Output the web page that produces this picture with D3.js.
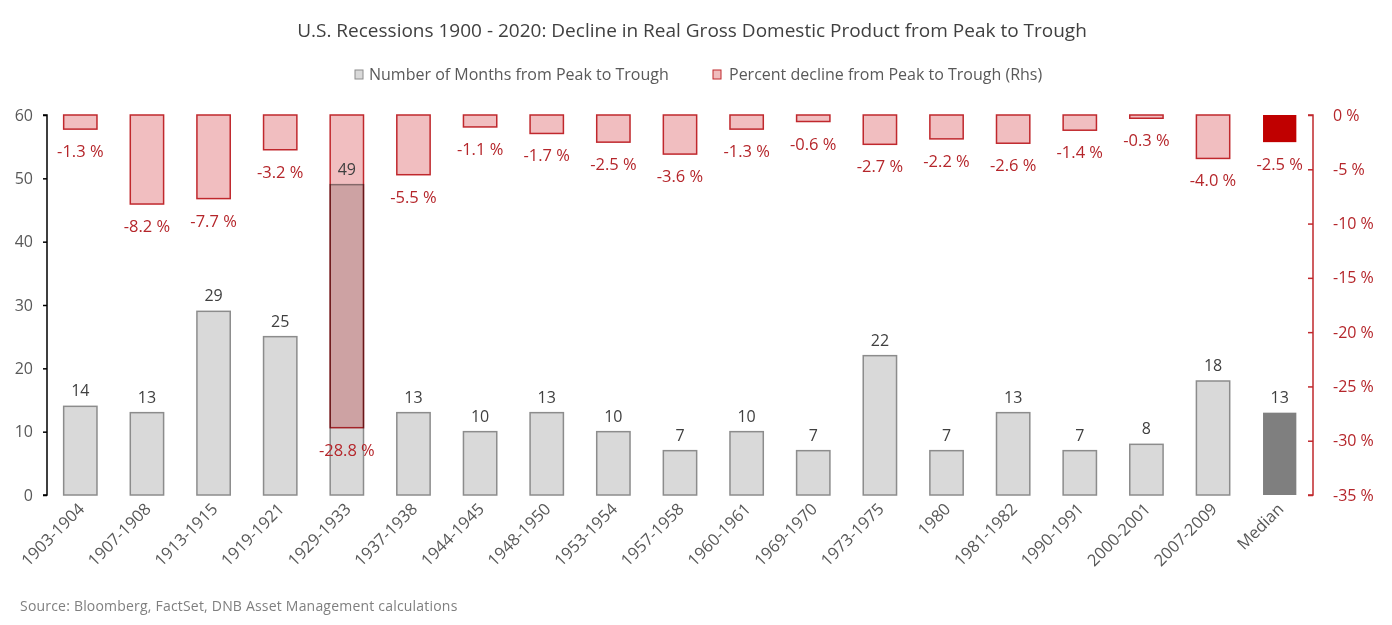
<!DOCTYPE html>
<html>
<head>
<meta charset="utf-8">
<script src="https://cdn.jsdelivr.net/npm/d3@7"></script>
<style>
  body { margin: 0; background: #fff; }
  svg text { font-family: "Open Sans", "Noto Sans", sans-serif; }
</style>
</head>
<body>
<div id="chart"></div>
<script>
// Data
var periods = ["1903-1904", "1907-1908", "1913-1915", "1919-1921", "1929-1933", "1937-1938",
               "1944-1945", "1948-1950", "1953-1954", "1957-1958", "1960-1961", "1969-1970",
               "1973-1975", "1980", "1981-1982", "1990-1991", "2000-2001", "2007-2009", "Median"];
var months  = [14, 13, 29, 25, 49, 13, 10, 13, 10, 7, 10, 7, 22, 7, 13, 7, 8, 18, 13];
var decline = [-1.3, -8.2, -7.7, -3.2, -28.8, -5.5, -1.1, -1.7, -2.5, -3.6, -1.3, -0.6,
               -2.7, -2.2, -2.6, -1.4, -0.3, -4.0, -2.5];
var leftTicks  = [0, 10, 20, 30, 40, 50, 60];
var rightTicks = [0, -5, -10, -15, -20, -25, -30, -35];

var data = periods.map(function(p, i) {
	return { period: p, months: months[i], decline: decline[i], median: p === "Median" };
});

// Dimensions
var svg_dx = 1392, svg_dy = 625;
var margin = {top: 115, right: 79, bottom: 130, left: 47},
	width  = svg_dx - margin.left - margin.right,
	height = svg_dy - margin.top - margin.bottom;

var svg = d3.select("#chart").append("svg")
	.attr("width", svg_dx)
	.attr("height", svg_dy);

// Title
svg.append("text")
	.attr("x", 692).attr("y", 37)
	.attr("text-anchor", "middle")
	.style("font-size", "19px")
	.style("fill", "#404040")
	.text("U.S. Recessions 1900 - 2020: Decline in Real Gross Domestic Product from Peak to Trough");

// Legend
var legend = svg.append("g").attr("transform", "translate(0,75)");
legend.append("rect").attr("x", 355).attr("y", -5).attr("width", 8).attr("height", 9)
	.style("fill", "#d9d9d9").style("stroke", "#8c8c8c");
legend.append("text").attr("x", 369).attr("y", 5)
	.style("font-size", "16px").style("fill", "#595959")
	.text("Number of Months from Peak to Trough");
legend.append("rect").attr("x", 713).attr("y", -5).attr("width", 8).attr("height", 9)
	.style("fill", "#f0bcbd").style("stroke", "#c0282d");
legend.append("text").attr("x", 729).attr("y", 5)
	.style("font-size", "16px").style("fill", "#595959")
	.text("Percent decline from Peak to Trough (Rhs)");

var g = svg.append("g")
	.attr("transform", "translate(" + margin.left + "," + margin.top + ")");

// Scales
var xScale = d3.scaleBand()
	.domain(periods)
	.range([0, width])
	.paddingInner(0.5)
	.paddingOuter(0.25);

var yLeft = d3.scaleLinear().domain([0, 60]).range([height, 0]);
var yRight = d3.scaleLinear().domain([-35, 0]).range([height, 0]);

// Month bars
g.selectAll(".mbar").data(data).enter()
	.append("rect")
	.attr("class", "mbar")
	.attr("x", function(d) { return xScale(d.period); })
	.attr("width", xScale.bandwidth())
	.attr("y", function(d) { return yLeft(d.months); })
	.attr("height", function(d) { return height - yLeft(d.months); })
	.style("fill", function(d) { return d.median ? "#7f7f7f" : "#d9d9d9"; })
	.style("stroke", function(d) { return d.median ? "none" : "#8c8c8c"; })
	.style("stroke-width", 1.5);

// Decline bars hang from the top
g.selectAll(".pbar").data(data).enter()
	.append("rect")
	.attr("class", "pbar")
	.attr("x", function(d) { return xScale(d.period); })
	.attr("width", xScale.bandwidth())
	.attr("y", yRight(0))
	.attr("height", function(d) { return yRight(d.decline) - yRight(0); })
	.style("fill", function(d) { return d.median ? "#c00000" : "#f1bec0"; })
	.style("stroke", function(d) { return d.median ? "none" : "#c0282d"; })
	.style("stroke-width", 1.5)
	.style("mix-blend-mode", "multiply");

// Month labels
g.selectAll(".mlab").data(data).enter()
	.append("text")
	.attr("class", "mlab")
	.attr("x", function(d) { return xScale(d.period) + xScale.bandwidth() / 2; })
	.attr("y", function(d) { return yLeft(d.months) - 10; })
	.attr("text-anchor", "middle")
	.style("font-size", "16px")
	.style("fill", "#404040")
	.text(function(d) { return d.months; });

// Decline labels
g.selectAll(".plab").data(data).enter()
	.append("text")
	.attr("class", "plab")
	.attr("x", function(d) { return xScale(d.period) + xScale.bandwidth() / 2; })
	.attr("y", function(d) { return yRight(d.decline) + 28; })
	.attr("text-anchor", "middle")
	.style("font-size", "16.5px")
	.style("fill", "#b5262b")
	.text(function(d) { return d.decline.toFixed(1) + " %"; });

// Left axis
var leftAxis = g.append("g")
	.call(d3.axisLeft(yLeft).tickValues(leftTicks).tickSize(4).tickPadding(10));
leftAxis.select(".domain").attr("stroke", "#000").attr("stroke-width", 1.5)
	.attr("d", "M-4," + height + "H0V0H-4");
leftAxis.selectAll(".tick line").attr("stroke", "#000").attr("stroke-width", 1.5);
leftAxis.selectAll(".tick text").style("font-size", "16px").style("fill", "#595959")
	.style("font-family", "'Open Sans', sans-serif");

// Right axis
var rightAxis = g.append("g")
	.attr("transform", "translate(" + width + ",0)")
	.call(d3.axisRight(yRight).tickValues(rightTicks).tickSize(-5).tickPadding(20)
		.tickFormat(function(d) { return d + " %"; }));
rightAxis.select(".domain").attr("stroke", "#c0282d").attr("stroke-width", 1.5)
	.attr("d", "M-5," + height + "H0V0H-5");
rightAxis.selectAll(".tick line").attr("stroke", "#c0282d").attr("stroke-width", 1.5);
rightAxis.selectAll(".tick text").style("font-size", "16px").style("fill", "#b5262b")
	.style("font-family", "'Open Sans', sans-serif");

// X labels, rotated
var xAxis = g.append("g")
	.attr("transform", "translate(0," + height + ")")
	.call(d3.axisBottom(xScale).tickSize(0).tickPadding(0));
xAxis.select(".domain").remove();
xAxis.selectAll(".tick text")
	.attr("text-anchor", "end")
	.attr("dy", 0)
	.attr("transform", "translate(5,15) rotate(-45)")
	.style("font-size", "16.5px")
	.style("fill", "#595959")
	.style("font-family", "'Open Sans', sans-serif");

// Source
svg.append("text")
	.attr("x", 20).attr("y", 611)
	.style("font-size", "14px")
	.style("letter-spacing", "0.2px")
	.style("fill", "#7f7f7f")
	.text("Source: Bloomberg, FactSet, DNB Asset Management calculations");
</script>
</body>
</html>
